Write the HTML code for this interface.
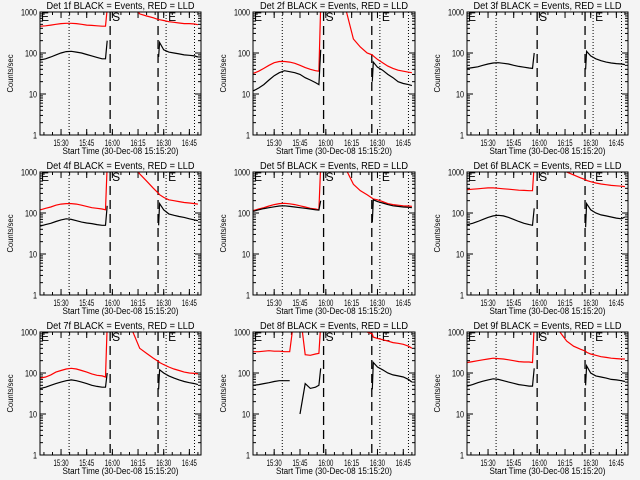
<!DOCTYPE html>
<html><head><meta charset="utf-8"><style>
html,body{margin:0;padding:0;background:#f4f4f4;}
svg{display:block;font-family:"Liberation Sans",sans-serif;}
</style></head><body>
<svg id="chart" width="640" height="480" viewBox="0 0 640 480" xmlns="http://www.w3.org/2000/svg">
<rect width="640" height="480" fill="#f4f4f4"/>
</svg>
<script>
const detNames = ["1f","2f","3f","4f","5f","6f","7f","8f","9f"];
const preTimes = [18,21,24,27,30,33,36,39,42,45,48,51,54,56,57];
const gapTimes = [58,66,72,76,80,84];
const postTimes = [87,87.6,90,93,96,99,102,105,108,110];
const tickMinutes = [30,45,60,75,90,105];
const tickLabels = ["15:30","15:45","16:00","16:15","16:30","16:45"];
const yTicks = [1,10,100,1000];
const dashedTimes = [58.7,86.7];
const dottedTimes = [34.7,91.4,108];
const blackPre = [
 [68,72,80,90,100,108,110,105,100,92,85,78,72,72,200],
 [12,14,17,22,28,33,37,35,33,30,25,22,19,17,120],
 [42,44,46,50,54,57,58,56,54,50,47,45,43,42,100],
 [48,52,56,62,68,72,70,65,60,57,55,52,50,50,150],
 [110,120,128,135,142,148,150,145,140,135,130,125,120,118,200],
 [52,56,62,70,78,85,88,85,78,70,62,56,52,50,130],
 [42,45,50,55,60,65,68,65,60,55,50,47,45,45,100],
 [50,52,55,58,62,65,65,65,null,10,55,42,45,50,130],
 [48,52,58,63,68,72,70,65,60,56,52,50,48,48,130]];
const blackPost = [
 [80,180,120,105,100,95,90,88,85,80],
 [20,60,45,38,30,25,20,18,17,16],
 [40,110,85,72,65,60,57,55,54,52],
 [50,170,120,95,88,82,78,72,68,65],
 [60,210,190,175,160,150,145,140,138,135],
 [45,170,120,100,90,85,80,75,72,80],
 [40,120,100,85,75,68,62,58,55,52],
 [40,180,140,120,100,90,85,80,70,60],
 [50,150,100,85,80,75,70,68,65,62]];
const redPre = [
 [450,460,480,500,520,530,530,520,500,480,470,460,450,450,1200],
 [32,36,42,50,58,62,62,60,56,50,44,40,37,36,1500],
 [1100,1100,1100,1100,1100,1100,1100,1100,1100,1100,1100,1100,1100,1100,1500],
 [120,130,140,155,165,170,170,165,155,145,135,130,125,120,1500],
 [115,125,135,148,160,170,172,168,160,150,140,130,125,120,1500],
 [370,380,390,400,410,410,400,390,380,370,360,355,350,350,1500],
 [75,80,90,105,115,125,130,125,115,105,95,88,85,80,1500],
 [330,330,340,350,340,340,330,330,3000,3000,280,270,290,300,1500],
 [180,190,200,210,220,230,225,220,210,200,190,185,185,180,1500]];
const redGap = [
 [3000,3000,1500,900,800,720],
 [3000,3000,1000,220,140,100],
 [3000,3000,3000,3000,3000,3000],
 [3000,3000,1500,900,600,400],
 [3000,3000,1100,500,350,280],
 [3000,3000,3000,1000,850,720],
 [3000,3000,1000,400,300,230],
 [3000,3000,3000,3000,3000,1000],
 [3000,3000,1000,600,450,380]];
const redPost = [
 [650,650,620,580,560,540,520,520,510,490],
 [90,85,70,58,48,42,38,36,34,33],
 [3000,3000,3000,3000,3000,3000,3000,3000,3000,3000],
 [300,280,240,210,200,190,180,175,170,165],
 [230,220,210,190,170,160,155,150,148,145],
 [650,620,580,540,510,490,470,460,450,440],
 [190,180,160,140,125,115,105,100,98,95],
 [900,750,700,650,600,550,530,500,450,400],
 [340,320,290,270,250,240,230,225,220,220]];

const NS="http://www.w3.org/2000/svg";
const svg=document.getElementById('chart');
const colX=[[40,201],[253,415],[467,628]];
const rowY=[[12,135],[172,295],[332,455]];
const T0=17.7,T1=111.8;
function mk(tag,attrs,parent){const e=document.createElementNS(NS,tag);for(const k in attrs)e.setAttribute(k,attrs[k]);(parent||svg).appendChild(e);return e;}

for(let p=0;p<9;p++){
  const [x0,x1]=colX[p%3],[y0,y1]=rowY[Math.floor(p/3)];
  const xs=t=>x0+(t-T0)/(T1-T0)*(x1-x0);
  const ys=v=>y1-Math.log10(v)/3*(y1-y0);
  const g=mk('g',{});
  
  
  const cp=mk('clipPath',{id:'cp'+p},g);
  mk('rect',{x:x0,y:y0,width:x1-x0,height:y1-y0},cp);
  const title=mk('text',{x:(x0+x1)/2,y:y0-3,'text-anchor':'middle','font-size':'10',textLength:148,lengthAdjust:'spacingAndGlyphs'},g);
  title.textContent='Det '+detNames[p]+' BLACK = Events, RED = LLD';
  
  
  const yl=mk('text',{x:0,y:0,'text-anchor':'middle','font-size':'8',textLength:38,lengthAdjust:'spacingAndGlyphs',transform:`translate(${x0-27},${(y0+y1)/2}) rotate(-90)`},g);
  yl.textContent='Counts/sec';
  
  
  const xl=mk('text',{x:(x0+x1)/2,y:y1+19,'text-anchor':'middle','font-size':'9',textLength:116,lengthAdjust:'spacingAndGlyphs'},g);
  xl.textContent='Start Time (30-Dec-08 15:15:20)';
  
  
  yTicks.forEach(v=>{
    const y=ys(v);
    const s=String(v);
    const t=mk('text',{x:x0-3,y:y+3.5,'text-anchor':'end','font-size':'9',textLength:s.length*4,lengthAdjust:'spacingAndGlyphs'},g);
    t.textContent=s;
    
    
    mk('line',{x1:x0,x2:x0+6,y1:y,y2:y,stroke:'#000'},g);
    mk('line',{x1:x1-6,x2:x1,y1:y,y2:y,stroke:'#000'},g);
    if(v<1000)for(let m=2;m<10;m++){const ym=ys(v*m);
      mk('line',{x1:x0,x2:x0+3,y1:ym,y2:ym,stroke:'#000'},g);
      mk('line',{x1:x1-3,x2:x1,y1:ym,y2:ym,stroke:'#000'},g);}
  });
  tickMinutes.forEach((m,i)=>{
    const x=xs(m);
    const t=mk('text',{x:x,y:y1+11,'text-anchor':'middle','font-size':'9',textLength:15,lengthAdjust:'spacingAndGlyphs'},g);
    t.textContent=tickLabels[i];
    
    
    mk('line',{x1:x,x2:x,y1:y1,y2:y1-6,stroke:'#000'},g);
    mk('line',{x1:x,x2:x,y1:y0,y2:y0+6,stroke:'#000'},g);
  });
  for(let m=20;m<=110;m+=5){const x=xs(m);
    mk('line',{x1:x,x2:x,y1:y1,y2:y1-3,stroke:'#000'},g);
    mk('line',{x1:x,x2:x,y1:y0,y2:y0+3,stroke:'#000'},g);}
  dashedTimes.forEach(t=>{const x=xs(t);mk('line',{x1:x,x2:x,y1:y0,y2:y1,stroke:'#000','stroke-width':1.3,'stroke-dasharray':'9,5'},g);});
  dottedTimes.forEach(t=>{const x=xs(t);mk('line',{x1:x,x2:x,y1:y0,y2:y1,stroke:'#000','stroke-dasharray':'1,2'},g);});
  [['E',x0+1],['S',xs(dashedTimes[0])+2],['E',xs(dottedTimes[1])+2]].forEach(([c,x])=>{
    const t=mk('text',{x:x,y:y0+9,'font-size':'12'},g);t.textContent=c;
    
    });
  const cg=mk('g',{'clip-path':`url(#cp${p})`},g);
  function draw(times,vals,color,name){
    let pts=[];const segs=[];
    times.forEach((t,i)=>{const v=vals[i];if(v==null){if(pts.length)segs.push(pts);pts=[];}else pts.push(xs(t).toFixed(1)+','+ys(v).toFixed(1));});
    if(pts.length)segs.push(pts);
    segs.forEach(s=>{const l=mk('polyline',{points:s.join(' '),fill:'none',stroke:color,'stroke-width':1.2},cg);
      
      });
  }
  draw(preTimes.concat(gapTimes,postTimes),redPre[p].concat(redGap[p],redPost[p]),'#ff0000','red-lld-line');
  draw(preTimes,blackPre[p],'#000','black-events-line');
  draw(postTimes,blackPost[p],'#000','black-events-line');
  mk('rect',{x:x0,y:y0,width:x1-x0,height:y1-y0,fill:'none',stroke:'#000','stroke-width':1},g);
}
</script>
</body></html>
